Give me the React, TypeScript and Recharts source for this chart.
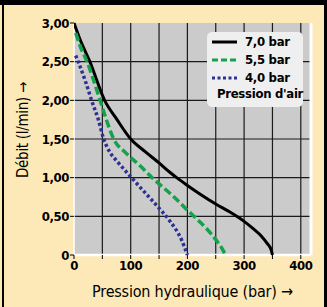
import React from 'react';
import { LineChart, Line, XAxis, YAxis, CartesianGrid, Legend, Label, ReferenceLine } from 'recharts';

// Pression hydraulique (bar) / débit (l/min)
const pressure70 = [0, 10, 28, 54, 75, 100, 125, 150, 169, 181, 200, 222, 250, 275, 287, 300, 316, 331, 341, 348, 350];
const flow70 = [3.0, 2.8, 2.5, 2.0, 1.76, 1.5, 1.34, 1.19, 1.07, 1.0, 0.9, 0.79, 0.66, 0.555, 0.5, 0.435, 0.34, 0.24, 0.147, 0.06, 0];

const pressure55 = [3, 12, 23, 35, 46, 58, 70, 90, 117, 138, 150, 175, 200, 216, 234, 251, 263, 267];
const flow55 = [2.87, 2.68, 2.5, 2.25, 2.0, 1.73, 1.5, 1.33, 1.15, 1.0, 0.92, 0.76, 0.58, 0.47, 0.34, 0.19, 0.06, 0];

const pressure40 = [3, 10, 20, 31, 43, 52, 64, 75, 99, 131, 152, 169, 190, 200];
const flow40 = [2.58, 2.45, 2.25, 2.0, 1.75, 1.51, 1.32, 1.22, 1.02, 0.76, 0.59, 0.44, 0.19, 0];

const seriesNames = ['7,0 bar', '5,5 bar', '4,0 bar'];
const legendTitle = "Pression d'air";
const xTicks = [0, 50, 100, 150, 200, 250, 300, 350, 400];
const yTicks = [0, 0.5, 1, 1.5, 2, 2.5, 3];
const xTitle = 'Pression hydraulique (bar) →';
const yTitle = 'Débit (l/min) →';

const zip = (xs: number[], ys: number[]) => xs.map((p, i) => ({ p, q: ys[i] }));
const data70 = zip(pressure70, flow70);
const data55 = zip(pressure55, flow55);
const data40 = zip(pressure40, flow40);

const font = "'DejaVu Sans Condensed', 'Liberation Sans Narrow', sans-serif";

const styles: Record<string, { color: string; dash?: string; legendDash?: string; width: number }> = {
  '7,0 bar': { color: '#000000', width: 3 },
  '5,5 bar': { color: '#14a24a', dash: '8 3.5', legendDash: '6 3', width: 3.5 },
  '4,0 bar': { color: '#2e3192', dash: '3 2.5', legendDash: '3 2.5', width: 3.5 },
};

const renderLegend = (props: any) => {
  const items = [...(props.payload || [])].sort(
    (a: any, b: any) => seriesNames.indexOf(a.value) - seriesNames.indexOf(b.value)
  );
  return (
    <div
      style={{
        background: '#efefef',
        borderRadius: 5,
        width: 96,
        height: 75,
        boxSizing: 'border-box',
        paddingTop: 1,
        paddingLeft: 5,
        fontFamily: font,
        fontWeight: 700,
        fontSize: 13,
        letterSpacing: -0.3,
        color: '#000',
        lineHeight: '18px',
        whiteSpace: 'nowrap',
      }}
    >
      {items.map((entry: any) => {
        const s = styles[entry.value];
        return (
          <div key={entry.value} style={{ display: 'flex', alignItems: 'center', height: 18 }}>
            <svg width={26} height={6}>
              <line x1={0} y1={3} x2={25} y2={3} stroke={s.color} strokeWidth={3} strokeDasharray={s.legendDash} />
            </svg>
            <span style={{ marginLeft: 7 }}>{entry.value}</span>
          </div>
        );
      })}
      <div style={{ marginTop: -2, paddingLeft: 5 }}>{legendTitle}</div>
    </div>
  );
};

const YTitle = (props: any) => {
  const vb = props.viewBox;
  const x = vb.x + 23;
  const y = vb.y + vb.height / 2 - 9;
  return (
    <text x={x} y={y} transform={`rotate(-90 ${x} ${y})`} textAnchor="middle" dominantBaseline="central"
      fontFamily={font} fontSize={15} letterSpacing={-0.3} fill="#000">
      {yTitle}
    </text>
  );
};

const XTitle = (props: any) => {
  const vb = props.viewBox;
  return (
    <text x={vb.x + vb.width / 2} y={vb.y + 36} textAnchor="middle" dominantBaseline="central"
      fontFamily={font} fontSize={16} letterSpacing={-0.2} fill="#000">
      {xTitle}
    </text>
  );
};

const tickStyle = { fontFamily: font, fontWeight: 700, fontSize: 13, letterSpacing: -0.4, fill: '#000' };

export default function App() {
  return (
    <div style={{ position: 'absolute', left: 0, top: 0, width: 327, height: 307, background: '#fde9b7', overflow: 'hidden' }}>
      <LineChart width={327} height={307} margin={{ top: 23, right: 16, bottom: 0, left: 0 }}>
        <CartesianGrid
          fill="#cbcbcb"
          stroke="#1a1a1a"
          strokeWidth={1.2}
          verticalValues={xTicks.slice(1)}
          horizontalValues={yTicks.slice(1, -1)}
        />
        <XAxis
          dataKey="p"
          type="number"
          domain={[0, 418]}
          ticks={xTicks}
          allowDataOverflow
          tickFormatter={(v: number) => (v % 100 === 0 ? String(v) : '')}
          axisLine={false}
          tickLine={{ stroke: '#000' }}
          tickSize={4}
          tickMargin={2}
          tick={tickStyle}
          height={52}
        >
          <Label content={XTitle} />
        </XAxis>
        <YAxis
          type="number"
          domain={[0, 3]}
          ticks={yTicks}
          tickFormatter={(v: number) => (v === 0 ? '0' : v.toFixed(2).replace('.', ','))}
          axisLine={false}
          tickLine={{ stroke: '#000' }}
          tickSize={4}
          tickMargin={1}
          tick={tickStyle}
          width={74}
        >
          <Label content={YTitle} />
        </YAxis>
        <ReferenceLine x={0} stroke="#ffffff" strokeWidth={1.5} />
        <ReferenceLine y={0} stroke="#ffffff" strokeWidth={2.5} />
        <ReferenceLine x={418} stroke="#ffffff" strokeWidth={3} />
        <Legend
          layout="horizontal"
          verticalAlign="middle"
          align="center"
          content={renderLegend}
          wrapperStyle={{ position: 'absolute', left: 207, top: 32, width: 96, height: 75 }}
        />
        {[data70, data55, data40].map((d, i) => {
          const s = styles[seriesNames[i]];
          return (
            <Line
              key={seriesNames[i]}
              data={d}
              dataKey="q"
              name={seriesNames[i]}
              type="monotone"
              stroke={s.color}
              strokeWidth={s.width}
              strokeDasharray={s.dash}
              dot={false}
              activeDot={false}
              isAnimationActive={false}
            />
          );
        })}
      </LineChart>
      <div style={{ position: 'absolute', left: 0, top: 0, width: 327, height: 5, background: '#000' }} />
      <div style={{ position: 'absolute', left: 2, top: 0, width: 2, height: 307, background: '#000' }} />
      <div style={{ position: 'absolute', left: 324, top: 0, width: 3, height: 307, background: '#000' }} />
    </div>
  );
}
